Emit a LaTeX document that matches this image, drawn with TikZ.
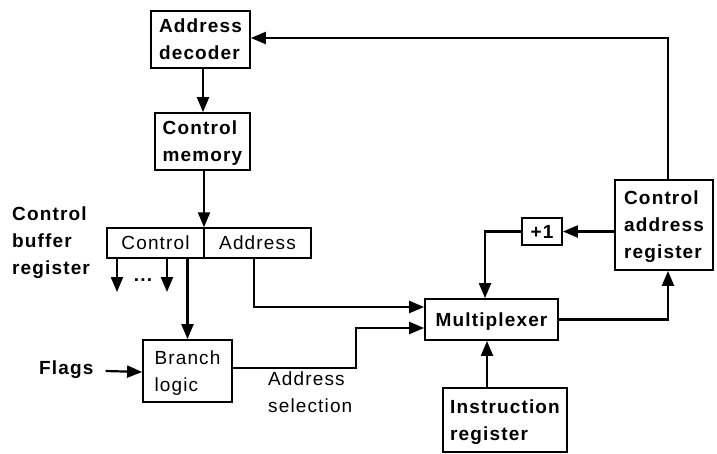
\documentclass[tikz,border=0pt]{standalone}
\usepackage{fontspec}
\setmainfont{Liberation Sans}[LetterSpace=6]
\usetikzlibrary{arrows.meta,calc}
\begin{document}
\begin{tikzpicture}[x=1pt,y=-1pt,
  every node/.style={font=\fontsize{19}{27}\selectfont\bfseries},
  box/.style={draw,line width=1.8pt,inner sep=0pt,align=left,text depth=0pt},
  lbl/.style={align=left,inner sep=0pt},
  thin/.style={font=\fontsize{19}{27}\selectfont},
  arr/.style={line width=2.2pt,-{Triangle[length=15pt,width=12pt]}},
  ln/.style={line width=2.2pt}]
\useasboundingbox (0,0) rectangle (717,453);
% boxes
\node[box,minimum width=99pt,minimum height=57pt] (dec) at (200.5,39.5) {Address\\decoder};
\node[box,minimum width=95pt,minimum height=57pt] (mem) at (202.5,141.5) {Control\\memory};
\node[box,thin,minimum width=97pt,minimum height=30pt,line width=1.5pt] (regc) at (155.5,243) {Control};
\node[box,thin,minimum width=107pt,minimum height=30pt,line width=1.5pt] (rega) at (257.5,243) {Address};
\node[box,thin,minimum width=89pt,minimum height=62pt] (br) at (187.5,371) {Branch\\logic};
\node[box,minimum width=133pt,minimum height=41pt] (mux) at (491.5,319.5) {Multiplexer};
\node[box,minimum width=40pt,minimum height=27pt] (inc) at (542,231.5) {+1};
\node[box,minimum width=98pt,minimum height=90pt] (car) at (664,225) {Control\\address\\register};
\node[box,minimum width=124pt,minimum height=64pt] (ir) at (505,420) {Instruction\\register};
% labels
\node[lbl,anchor=west] (cbr) at (12,243) {Control\\buffer\\register};
\node[lbl,anchor=west] (flags) at (39,370) {Flags};
\node[lbl] (dots) at (143,280) {...};
\node[lbl,thin,anchor=north west] (asel) at (268,372) {Address\\selection};
\coordinate (a1) at (117,292);
\coordinate (a2) at (167,292);
% connectors
\draw[arr] ([xshift=4pt]car.north) |- ([yshift=1.5pt]dec.east);
\draw[arr] ([xshift=2.5pt]dec.south) -- ([xshift=0.5pt]mem.north);
\draw[arr] ([xshift=1.5pt]mem.south) -- ([xshift=1.5pt]mem.south |- regc.north);
\draw[arr] (regc.south -| a1) -- (a1);
\draw[arr] (regc.south -| a2) -- (a2);
\draw[arr] (br.north |- regc.south) -- (br.north);
\draw[arr] ([xshift=-3.5pt]rega.south) |- ([yshift=12.5pt]mux.west);
\draw[arr] ([yshift=3pt]br.east) -- ++(123,0) |- ([yshift=-8.5pt]mux.west);
\draw[arr] ([xshift=12pt,yshift=-1pt]flags.east) -- ([yshift=-1pt]br.west);
\draw[arr] (car.west |- inc.east) -- (inc.east);
\draw[arr] (inc.west) -| ([xshift=-6.5pt]mux.north);
\draw[arr] (mux.east) -| ([xshift=4pt]car.south);
\draw[arr] ([xshift=-18pt]ir.north) -- ([xshift=-4.5pt]mux.south);
\end{tikzpicture}
\end{document}
